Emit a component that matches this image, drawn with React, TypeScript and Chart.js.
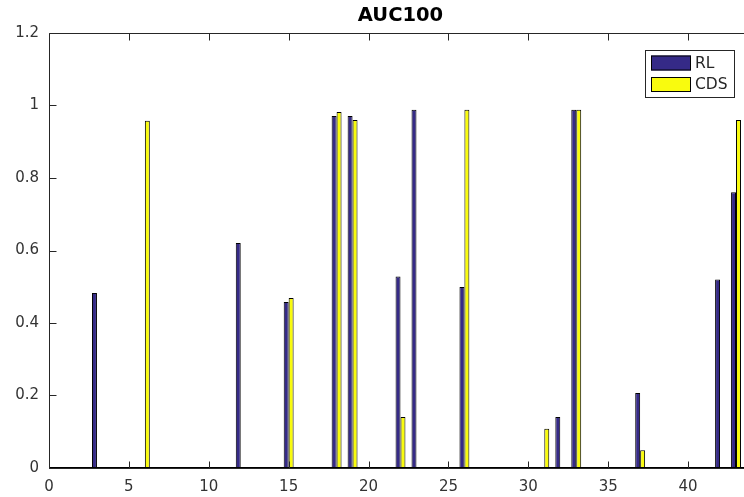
import React, { useEffect, useRef } from "react";
import { Chart, registerables } from "chart.js";

Chart.register(...registerables);

// Experiment index (1..43)
const experiments = [
  1, 2, 3, 4, 5, 6, 7, 8, 9, 10,
  11, 12, 13, 14, 15, 16, 17, 18, 19, 20,
  21, 22, 23, 24, 25, 26, 27, 28, 29, 30,
  31, 32, 33, 34, 35, 36, 37, 38, 39, 40,
  41, 42, 43,
];

const rlValues = [
  0, 0, 0.483, 0, 0, 0, 0, 0, 0, 0,
  0, 0.621, 0, 0, 0.458, 0, 0, 0.971, 0.971, 0,
  0, 0.528, 0.988, 0, 0, 0.499, 0, 0, 0, 0,
  0, 0.141, 0.988, 0, 0, 0, 0.207, 0, 0, 0,
  0, 0.52, 0.761,
];

const cdsValues = [
  0, 0, 0, 0, 0, 0.958, 0, 0, 0, 0,
  0, 0, 0, 0, 0.469, 0, 0, 0.982, 0.96, 0,
  0, 0.141, 0, 0, 0, 0.988, 0, 0, 0, 0,
  0.108, 0, 0.988, 0, 0, 0, 0.049, 0, 0, 0,
  0, 0, 0.96,
];

const seriesNames = ["RL", "CDS"];
const seriesColors = ["#352a87", "#f9fb0e"];
const xTickValues = [0, 5, 10, 15, 20, 25, 30, 35, 40];
const yTickValues = [0, 0.2, 0.4, 0.6, 0.8, 1, 1.2];
const chartTitle = "AUC100";

const FONT = "'DejaVu Sans', sans-serif";
const AXIS_COLOR = "#262626";

// Box, inward ticks, baseline, title and in-plot legend (MATLAB look)
const matlabAxes = {
  id: "matlabAxes",
  afterDatasetsDraw(chart: any) {
    const { ctx, chartArea, scales } = chart;
    const { left, right, top, bottom } = chartArea;
    const xs = scales.x;
    const ys = scales.y;
    const tick = 7;
    ctx.save();

    // baseline at y = 0
    ctx.strokeStyle = "#000";
    ctx.lineWidth = 1.5;
    const y0 = Math.round(ys.getPixelForValue(0)) - 0.25;
    ctx.beginPath();
    ctx.moveTo(left, y0);
    ctx.lineTo(right, y0);
    ctx.stroke();

    // axes box
    ctx.strokeStyle = AXIS_COLOR;
    ctx.lineWidth = 1;
    const L = Math.round(left) + 0.5;
    const R = Math.round(right) + 0.5;
    const T = Math.round(top) + 0.5;
    const B = Math.round(bottom) + 0.5;
    ctx.beginPath();
    ctx.rect(L, T, R - L, B - T);
    ctx.stroke();

    // inward ticks
    ctx.beginPath();
    xTickValues.forEach((v) => {
      const px = Math.round(xs.getPixelForValue(v)) + 0.5;
      ctx.moveTo(px, B);
      ctx.lineTo(px, B - tick);
      ctx.moveTo(px, T);
      ctx.lineTo(px, T + tick);
    });
    yTickValues.forEach((v) => {
      const py = Math.round(ys.getPixelForValue(v)) + 0.5;
      ctx.moveTo(L, py);
      ctx.lineTo(L + tick, py);
      ctx.moveTo(R, py);
      ctx.lineTo(R - tick, py);
    });
    ctx.stroke();

    // title
    ctx.fillStyle = "#000";
    ctx.font = `bold 19.5px ${FONT}`;
    ctx.textAlign = "center";
    ctx.textBaseline = "middle";
    ctx.fillText(chartTitle, (left + right) / 2, 16);

    // legend
    const lx = 645.5;
    const ly = 50.5;
    const lw = 89;
    const lh = 47;
    ctx.fillStyle = "#fff";
    ctx.fillRect(lx, ly, lw, lh);
    ctx.strokeStyle = AXIS_COLOR;
    ctx.lineWidth = 1;
    ctx.strokeRect(lx, ly, lw, lh);
    ctx.font = `15.5px ${FONT}`;
    ctx.textAlign = "left";
    ctx.textBaseline = "middle";
    chart.data.datasets.forEach((ds: any, i: number) => {
      const py = 55.5 + i * 21.5;
      ctx.fillStyle = ds.backgroundColor;
      ctx.fillRect(651, py, 40, 15);
      ctx.strokeStyle = "#000";
      ctx.strokeRect(651.5, py + 0.5, 39, 14);
      ctx.fillStyle = AXIS_COLOR;
      ctx.fillText(ds.label, 695, py + 8);
    });

    ctx.restore();
  },
};

export default function App() {
  const canvasRef = useRef<HTMLCanvasElement | null>(null);

  useEffect(() => {
    const canvas = canvasRef.current;
    if (!canvas) return;
    const chart = new Chart(canvas, {
      type: "bar",
      data: {
        datasets: [rlValues, cdsValues].map((vals, i) => ({
          label: seriesNames[i],
          data: experiments.map((x, j) => ({ x, y: vals[j] })),
          backgroundColor: seriesColors[i],
          borderColor: "#000",
          borderWidth: 1,
          categoryPercentage: 0.62,
          barPercentage: 1,
        })),
      },
      options: {
        responsive: false,
        animation: false,
        devicePixelRatio: 1,
        layout: { padding: { top: 33, right: 8, left: 0, bottom: 0 } },
        plugins: {
          legend: { display: false },
          title: { display: false },
          tooltip: { enabled: false },
        },
        scales: {
          x: {
            type: "linear",
            min: 0,
            max: 44,
            offset: false,
            grid: { display: false, drawTicks: false },
            border: { display: false },
            afterBuildTicks: (s: any) => {
              s.ticks = xTickValues.map((v) => ({ value: v }));
            },
            afterFit: (s: any) => {
              s.height = 29;
            },
            ticks: {
              padding: 10,
              color: "#333",
              font: { family: FONT, size: 15 },
              maxRotation: 0,
              autoSkip: false,
              callback: (v: any) => String(v),
            },
          },
          y: {
            min: 0,
            max: 1.2,
            grid: { display: false, drawTicks: false },
            border: { display: false },
            afterBuildTicks: (s: any) => {
              s.ticks = yTickValues.map((v) => ({ value: v }));
            },
            afterFit: (s: any) => {
              s.width = 49;
            },
            ticks: {
              padding: 10,
              color: "#333",
              font: { family: FONT, size: 15 },
              callback: (v: any) => String(Math.round(Number(v) * 10) / 10),
            },
          },
        },
      },
      plugins: [matlabAxes],
    });
    return () => chart.destroy();
  }, []);

  return (
    <div
      style={{
        position: "fixed",
        left: 0,
        top: 0,
        width: 744,
        height: 497,
        overflow: "hidden",
        background: "#fff",
      }}
    >
      <canvas ref={canvasRef} width={760} height={497} style={{ display: "block" }} />
    </div>
  );
}
